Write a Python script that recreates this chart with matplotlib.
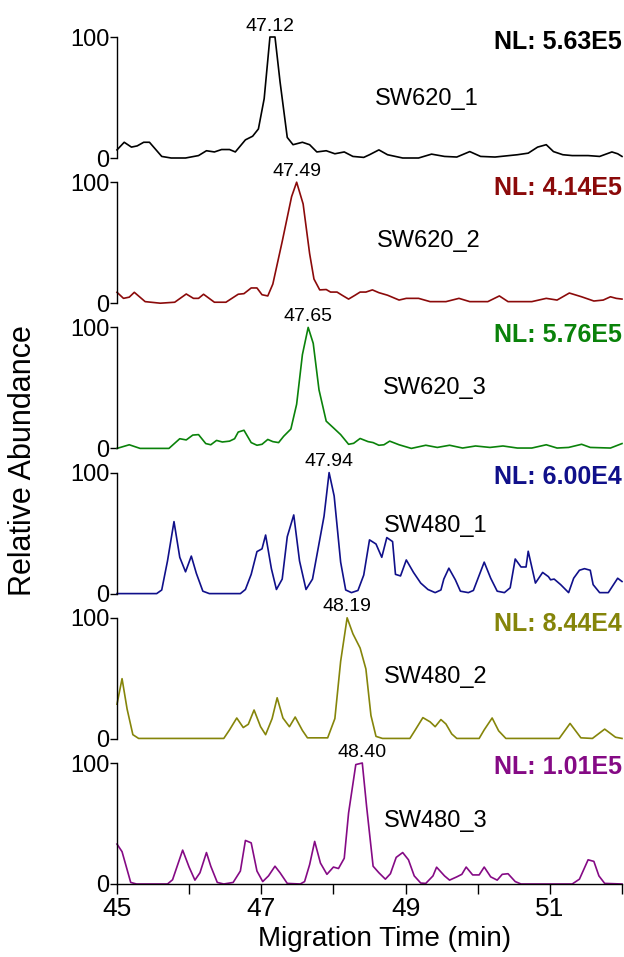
import matplotlib
matplotlib.use("Agg")
import matplotlib.pyplot as plt

plt.rcParams['font.family'] = ['Liberation Sans', 'DejaVu Sans']

# --- data (migration time in min, relative abundance in %) ---
samples = ["SW620_1", "SW620_2", "SW620_3", "SW480_1", "SW480_2", "SW480_3"]
nl_labels = ["NL: 5.63E5", "NL: 4.14E5", "NL: 5.76E5", "NL: 6.00E4", "NL: 8.44E4", "NL: 1.01E5"]
peak_times = [47.12, 47.49, 47.65, 47.94, 48.19, 48.40]
colors = ["#000000", "#8b0a0a", "#0a820a", "#10108a", "#85850a", "#850a85"]

t1 = [45.0, 45.10, 45.20, 45.28, 45.37, 45.45, 45.62, 45.75, 45.95, 46.13, 46.24, 46.35, 46.45,
      46.56, 46.64, 46.78, 46.88, 46.96, 47.04, 47.12, 47.19, 47.26, 47.36, 47.44, 47.57, 47.67,
      47.77, 47.90, 48.02, 48.15, 48.27, 48.42, 48.50, 48.63, 48.75, 48.96, 49.18, 49.36, 49.54,
      49.71, 49.89, 50.04, 50.24, 50.55, 50.70, 50.83, 50.95, 51.05, 51.18, 51.31, 51.53, 51.69,
      51.86, 51.94, 52.0]
a1 = [6.7, 13, 9, 10, 13, 13, 1.3, 0, 0, 2, 6, 5, 7,
      7, 5, 15, 18, 24, 49, 100, 100, 63, 17, 11, 13, 11,
      5, 6, 3.5, 5, 1.3, 0.5, 2.7, 6.7, 2.7, 0, 0, 3.2, 1.3,
      0.8, 5.3, 1.3, 0.8, 2.7, 4, 9, 11, 5.3, 2.7, 2, 2, 1.3,
      5, 3.5, 1.3]

t2 = [45.0, 45.09, 45.17, 45.24, 45.39, 45.60, 45.80, 45.96, 46.06, 46.13, 46.20, 46.35, 46.51,
      46.68, 46.76, 46.86, 46.94, 47.01, 47.09, 47.16, 47.29, 47.42, 47.49, 47.58, 47.67, 47.73,
      47.81, 47.90, 47.96, 48.05, 48.12, 48.21, 48.30, 48.37, 48.45, 48.54, 48.63, 48.75, 48.91,
      49.01, 49.18, 49.34, 49.56, 49.74, 49.89, 50.14, 50.30, 50.42, 50.75, 50.95, 51.10, 51.27,
      51.44, 51.61, 51.74, 51.84, 51.92, 52.0]
a2 = [9, 4, 5, 9, 1.3, 0, 0.8, 7.6, 4, 4, 7.4, 0.8, 0.8,
      7.4, 7.9, 12.6, 12.6, 7, 6, 15.8, 51, 88, 100, 82, 41, 20,
      11, 11.3, 9.2, 9.2, 6.6, 3.4, 6.6, 9.2, 9.2, 11, 8.7, 6.6, 2.6,
      4, 4, 1.3, 1.3, 4, 1.3, 1.3, 6, 1.3, 1.3, 4, 2.6, 8.4,
      5.3, 1.8, 2.6, 5.3, 4, 3.4]

t3 = [45.0, 45.17, 45.32, 45.72, 45.87, 45.96, 46.05, 46.13, 46.23, 46.30, 46.38, 46.46, 46.56,
      46.63, 46.68, 46.76, 46.86, 46.94, 47.01, 47.09, 47.16, 47.24, 47.31, 47.41, 47.49, 47.57,
      47.65, 47.72, 47.80, 47.90, 48.00, 48.10, 48.21, 48.28, 48.37, 48.48, 48.55, 48.63, 48.70,
      48.78, 48.91, 49.08, 49.28, 49.44, 49.61, 49.79, 49.97, 50.17, 50.35, 50.55, 50.75, 50.95,
      51.10, 51.26, 51.44, 51.56, 51.84, 52.0]
a3 = [0, 3, 0, 0, 8, 7, 11, 11.4, 4, 3, 6.6, 5.3, 6,
      8, 13.5, 15, 4.8, 2.6, 3.4, 7.4, 5.6, 4.8, 10, 16, 36.5, 77.5,
      100, 86.8, 48.4, 22.5, 17, 11.4, 3.4, 4.2, 8.2, 5.6, 4.8, 2.6, 3,
      6, 3, 0, 2.6, 0.8, 2.6, 0.3, 2, 0.8, 2, 0.3, 0.3, 3,
      0.3, 0.8, 3.4, 0.8, 0.3, 4]

t4 = [45.0, 45.55, 45.62, 45.70, 45.79, 45.87, 45.95, 46.03, 46.10, 46.19, 46.28, 46.71, 46.78,
      46.86, 46.94, 47.01, 47.06, 47.14, 47.21, 47.29, 47.36, 47.45, 47.53, 47.62, 47.71, 47.79,
      47.87, 47.94, 48.01, 48.10, 48.17, 48.25, 48.34, 48.42, 48.50, 48.59, 48.67, 48.74, 48.82,
      48.86, 48.93, 49.01, 49.11, 49.21, 49.31, 49.41, 49.49, 49.53, 49.60, 49.69, 49.76, 49.87,
      49.94, 50.09, 50.18, 50.27, 50.37, 50.45, 50.52, 50.60, 50.67, 50.70, 50.80, 50.90, 50.98,
      51.01, 51.06, 51.15, 51.26, 51.33, 51.41, 51.48, 51.56, 51.60, 51.69, 51.81, 51.94, 52.0]
a4 = [0, 0, 3, 27, 59.5, 30, 18, 31, 16.7, 2, 0, 0, 3.4,
      15.9, 34.7, 37, 48.4, 20.6, 3.4, 12, 47, 65, 27, 3.4, 12, 38,
      64, 100, 80.7, 26, 3, 0.8, 2.6, 15.3, 44.4, 41, 30, 46.3, 43,
      15.9, 14.6, 27.8, 17.5, 8.7, 3.4, 0.8, 3, 12, 21, 11.4, 2, 0.8,
      2.6, 26, 12.7, 2, 0.8, 4.8, 28.6, 22, 22, 35, 8.7, 17.5, 14,
      11.4, 12, 7.4, 0.8, 12.7, 19.3, 20.6, 19.3, 7.4, 0.8, 0.8, 12.7, 10]

t5 = [45.0, 45.07, 45.14, 45.22, 45.30, 46.48, 46.56, 46.66, 46.75, 46.82, 46.90, 46.99, 47.06,
      47.15, 47.22, 47.30, 47.39, 47.47, 47.57, 47.64, 47.92, 48.02, 48.10, 48.19, 48.27, 48.37,
      48.45, 48.52, 48.59, 48.68, 49.06, 49.13, 49.24, 49.34, 49.41, 49.49, 49.56, 49.64, 49.71,
      50.02, 50.09, 50.20, 50.29, 50.39, 51.13, 51.28, 51.43, 51.59, 51.76, 51.91, 52.0]
a5 = [28.6, 49.7, 24.6, 3.4, 0.3, 0.3, 7.4, 17.2, 9.3, 12, 23.8, 10, 3.4,
      16.7, 33.9, 17.2, 10, 18, 6.9, 0.8, 0.8, 16.7, 64, 100, 86.8, 75,
      57.7, 19.3, 2, 0.3, 0.3, 6.9, 17.5, 14, 10, 15.9, 12.2, 4, 0.3,
      0.3, 7.4, 17.2, 6.6, 0.3, 0.3, 12.7, 0.8, 0.3, 8, 1.3, 0.3]

t6 = [45.0, 45.07, 45.19, 45.27, 45.70, 45.77, 45.91, 46.00, 46.08, 46.15, 46.24, 46.30, 46.39,
      46.48, 46.61, 46.71, 46.78, 46.86, 46.94, 47.02, 47.10, 47.19, 47.26, 47.36, 47.54, 47.60,
      47.67, 47.74, 47.82, 47.91, 48.00, 48.07, 48.15, 48.21, 48.31, 48.40, 48.46, 48.55, 48.63,
      48.72, 48.79, 48.87, 48.96, 49.04, 49.12, 49.21, 49.28, 49.38, 49.43, 49.54, 49.61, 49.71,
      49.78, 49.84, 49.93, 50.02, 50.09, 50.18, 50.27, 50.34, 50.42, 50.52, 50.60, 51.31, 51.41,
      51.53, 51.61, 51.68, 51.76, 52.0]
a6 = [33, 26.7, 1.3, 0, 0, 3.5, 28, 13.9, 3.2, 9.3, 26, 14.7, 1.3,
      0, 1.3, 10.7, 36, 34, 10.7, 2, 6.7, 14.7, 9.3, 0.5, 0, 2,
      16, 35.2, 17.3, 8, 14, 12.8, 21.3, 58.7, 98.7, 100, 64, 14.7, 9.3,
      4, 8.5, 22, 26, 20, 6.7, 0.8, 0.5, 6.7, 13.9, 6.7, 3.2, 5.9,
      8, 14, 7.5, 7.5, 14, 5.9, 3.2, 8, 8.5, 2, 0, 0, 4,
      20, 18.7, 6.7, 0.5, 0]

times = [t1, t2, t3, t4, t5, t6]
abund = [a1, a2, a3, a4, a5, a6]

# label placement (data units inside each panel)
sample_pos = [(48.57, 49), (48.60, 51), (48.68, 50), (48.70, 56), (48.70, 51), (48.70, 52)]
nl_y = [96, 95, 94, 96, 95, 97]

W, H = 624, 957
fig = plt.figure(figsize=(W / 100, H / 100), dpi=100)

left_px, right_px = 117, 622
ylo, yhi = -5, 115
unit_px = 1.21
ax_h_px = (yhi - ylo) * unit_px

for i in range(6):
    zero_px = 158 + i * 145.2
    bottom_px = zero_px - ylo * unit_px
    ax = fig.add_axes([left_px / W, 1 - bottom_px / H, (right_px - left_px) / W, ax_h_px / H])
    ax.patch.set_alpha(0)
    ax.plot(times[i], abund[i], color=colors[i], lw=1.2, clip_on=False)
    ax.set_xlim(45, 52)
    ax.set_ylim(ylo, yhi)
    for s in ["top", "right"]:
        ax.spines[s].set_visible(False)
    ax.spines["left"].set_bounds(0, 100)
    ax.spines["left"].set_linewidth(1.0)
    ax.set_yticks([0, 100])
    ax.tick_params(axis="y", direction="out", length=5, width=1.0, pad=0.5, labelsize=17)

    if i < 5:
        ax.spines["bottom"].set_visible(False)
        ax.set_xticks([])
    else:
        ax.spines["bottom"].set_position(("data", 0))
        ax.spines["bottom"].set_bounds(45, 52)
        ax.spines["bottom"].set_linewidth(1.0)
        ax.set_xticks([45, 46, 47, 48, 49, 50, 51, 52])
        ax.set_xticklabels(["45", "", "47", "", "49", "", "51", ""])
        ax.tick_params(axis="x", direction="out", length=7, width=1.0, pad=2, labelsize=19)

    ax.text(peak_times[i], 102, f"{peak_times[i]:.2f}", ha="center", va="bottom",
            fontsize=14, clip_on=False)
    ax.text(sample_pos[i][0], sample_pos[i][1], samples[i], ha="left", va="center", fontsize=17)
    ax.text(52, nl_y[i], nl_labels[i], ha="right", va="center", fontsize=18,
            fontweight="bold", color=colors[i])

fig.text(23 / W, 1 - 461 / H, "Relative Abundance", rotation=90, ha="center", va="center", fontsize=22)
fig.text(385 / W, 1 - 939 / H, "Migration Time (min)", ha="center", va="center", fontsize=20)

fig.savefig("out.png", dpi=100)
